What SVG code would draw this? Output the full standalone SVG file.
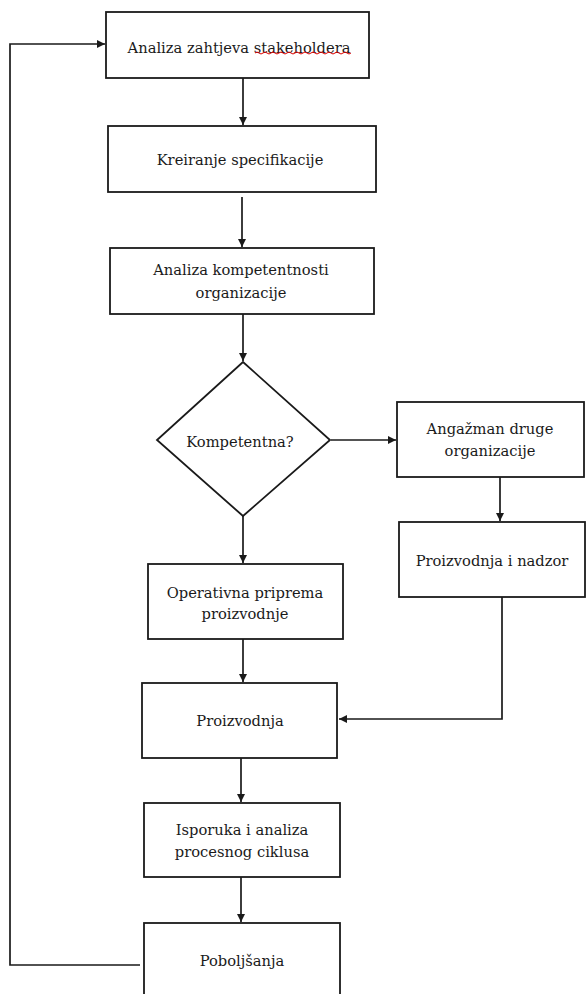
<svg xmlns="http://www.w3.org/2000/svg" width="587" height="994" viewBox="0 0 587 994">
<style>
.box{fill:#fff;stroke:#1a1a1a;stroke-width:1.8}
.t{font-family:"DejaVu Serif","Liberation Serif",serif;font-size:14.7px;fill:#1a1a1a;text-anchor:middle;dominant-baseline:central}
.c{fill:none;stroke:#1a1a1a;stroke-width:1.7}
</style>
<defs>
<marker id="ah" markerUnits="userSpaceOnUse" markerWidth="9" markerHeight="9" refX="8" refY="4" orient="auto">
<path d="M0,0 L8,4 L0,8 z" fill="#1a1a1a"/>
</marker>
</defs>
<rect width="587" height="994" fill="#fff"/>
<g id="connectors">
<path class="c" d="M140,965 H10 V44 H105" marker-end="url(#ah)"/>
<path class="c" d="M243,78 V125" marker-end="url(#ah)"/>
<path class="c" d="M242,197 V247" marker-end="url(#ah)"/>
<path class="c" d="M243,314 V361" marker-end="url(#ah)"/>
<path class="c" d="M331,440 H396" marker-end="url(#ah)"/>
<path class="c" d="M500,477 V521" marker-end="url(#ah)"/>
<path class="c" d="M502,597 V719 H339" marker-end="url(#ah)"/>
<path class="c" d="M243,516 V563" marker-end="url(#ah)"/>
<path class="c" d="M243,639 V682" marker-end="url(#ah)"/>
<path class="c" d="M241,758 V802" marker-end="url(#ah)"/>
<path class="c" d="M241,877 V922" marker-end="url(#ah)"/>
</g>
<g id="n1">
<rect class="box" x="106" y="12" width="263" height="66"/>
<text class="t" x="239" y="47">Analiza zahtjeva stakeholdera</text>
<path d="M255,53 q2,-2 4,0 t4,0 t4,0 t4,0 t4,0 t4,0 t4,0 t4,0 t4,0 t4,0 t4,0 t4,0 t4,0 t4,0 t4,0 t4,0 t4,0 t4,0 t4,0 t4,0 t4,0 t4,0 t4,0 t4,0" fill="none" stroke="#e00000" stroke-width="1"/>
</g>
<g id="n2">
<rect class="box" x="108" y="126" width="268" height="66"/>
<text class="t" x="240" y="159">Kreiranje specifikacije</text>
</g>
<g id="n3">
<rect class="box" x="110" y="248" width="264" height="66"/>
<text class="t" x="241" y="269">Analiza kompetentnosti</text>
<text class="t" x="241" y="292">organizacije</text>
</g>
<g id="n4">
<polygon class="box" points="243,362 330,440 243,516 157,440"/>
<text class="t" x="240" y="441">Kompetentna?</text>
</g>
<g id="n5">
<rect class="box" x="397" y="402" width="187" height="75"/>
<text class="t" x="490" y="428">Angažman druge</text>
<text class="t" x="490" y="450">organizacije</text>
</g>
<g id="n6">
<rect class="box" x="399" y="522" width="186" height="75"/>
<text class="t" x="492" y="560">Proizvodnja i nadzor</text>
</g>
<g id="n7">
<rect class="box" x="148" y="564" width="195" height="75"/>
<text class="t" x="245" y="592">Operativna priprema</text>
<text class="t" x="245" y="613">proizvodnje</text>
</g>
<g id="n8">
<rect class="box" x="142" y="683" width="195" height="75"/>
<text class="t" x="240" y="720">Proizvodnja</text>
</g>
<g id="n9">
<rect class="box" x="144" y="803" width="196" height="74"/>
<text class="t" x="242" y="829">Isporuka i analiza</text>
<text class="t" x="242" y="851">procesnog ciklusa</text>
</g>
<g id="n10">
<rect class="box" x="144" y="923" width="196" height="80"/>
<text class="t" x="242" y="960">Poboljšanja</text>
</g>
</svg>
